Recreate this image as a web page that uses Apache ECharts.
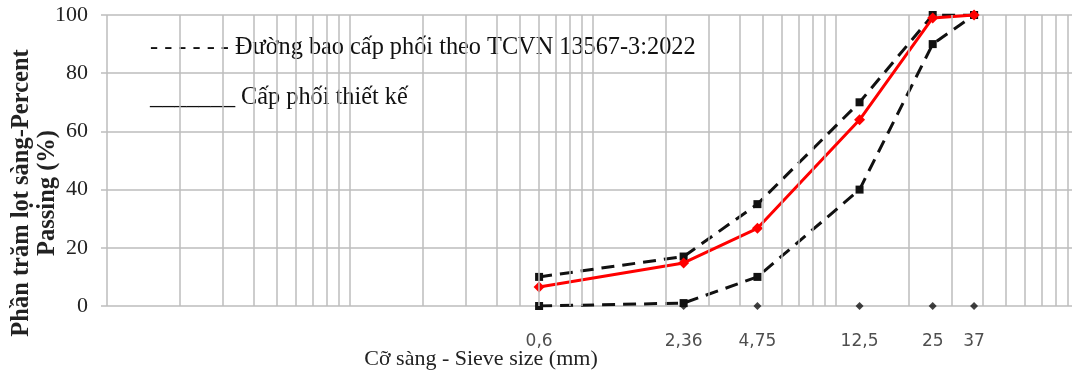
<!DOCTYPE html>
<html>
<head>
<meta charset="utf-8">
<script src="https://cdn.jsdelivr.net/npm/echarts@6/dist/echarts.min.js"></script>
<style>
  html, body { margin: 0; padding: 0; background: #fff; }
  #chart { width: 1072px; height: 378px; }
</style>
</head>
<body>
<div id="chart"></div>
<script>
// Sieve sizes (mm) and their printed labels
const sieveSizes = [0.6, 2.36, 4.75, 12.5, 25, 37];
const sieveLabels = ['0,6', '2,36', '4,75', '12,5', '25', '37'];

// Percent passing
const upperBound = [10, 17, 35, 70, 100, 100];
const lowerBound = [0, 1, 10, 40, 90, 100];
const designGrading = [6.5, 14.8, 26.7, 64, 99, 100];

// Axis ranges
const yTicks = [0, 20, 40, 60, 80, 100];
const xRange = [0.01, 100];

// Legend lines (typed as text)
const legendLines = [
  '- - - - - - Đường bao cấp phối theo TCVN 13567-3:2022',
  '_______ Cấp phối thiết kế'
];
const yTitle = 'Phần trăm lọt sàng-Percent\nPassing (%)';
const xTitle = 'Cỡ sàng - Sieve size (mm)';

const SERIF = '"Liberation Serif", "Times New Roman", serif';
const GRID_COLOR = '#bdbdbd';

// Minor log grid lines: 2..9 within each decade
const minorGrid = [];
for (let d = xRange[0]; d < xRange[1] * 0.999; d *= 10) {
  for (let k = 2; k <= 9; k++) minorGrid.push(+(k * d).toPrecision(6));
}

const pairs = (vals) => sieveSizes.map((s, i) => [s, vals[i]]);

const chart = echarts.init(document.getElementById('chart'), null, { renderer: 'canvas' });

chart.setOption({
  animation: false,
  backgroundColor: '#ffffff',
  grid: { left: 107, top: 15, right: -7, bottom: 72, containLabel: false, outerBoundsMode: 'none' },
  xAxis: {
    type: 'log',
    logBase: 10,
    min: xRange[0],
    max: xRange[1],
    axisLine: { show: false },
    axisTick: { show: false },
    axisLabel: { show: false },
    splitLine: { show: true, lineStyle: { color: GRID_COLOR, width: 1.5 } },
    name: xTitle,
    nameLocation: 'middle',
    nameGap: 42,
    nameTextStyle: {
      fontFamily: SERIF, fontSize: 22, color: '#222',
      padding: [0, 224, 0, 0]
    }
  },
  yAxis: {
    type: 'value',
    min: yTicks[0],
    max: yTicks[yTicks.length - 1],
    interval: 20,
    axisLine: { show: false },
    axisTick: { show: true, length: 6, lineStyle: { color: GRID_COLOR, width: 1.5 } },
    axisLabel: { fontFamily: SERIF, fontSize: 22, color: '#222', margin: 19 },
    splitLine: { show: true, lineStyle: { color: GRID_COLOR, width: 1.5 } }
  },
  graphic: [
    // y-axis title, rotated, two lines
    {
      type: 'text',
      x: 35,
      y: 193,
      rotation: Math.PI / 2,
      silent: true,
      style: {
        text: yTitle,
        font: 'bold 24.5px ' + SERIF,
        fill: '#222',
        align: 'center',
        verticalAlign: 'middle',
        lineHeight: 26
      }
    }
  ].concat(legendLines.map((t, i) => ({
    type: 'text',
    left: 150,
    top: 36 + i * 50,
    silent: true,
    style: { text: t, font: '24.3px ' + SERIF, fill: '#111' }
  }))),
  series: [
    {
      // sieve markers on the zero line, with size labels, plus minor grid
      name: 'sieves',
      type: 'scatter',
      z: 1,
      symbol: 'diamond',
      symbolSize: 8,
      itemStyle: { color: '#111' },
      data: sieveSizes.map((s) => [s, 0]),
      label: {
        show: true,
        position: 'bottom',
        distance: 23,
        fontFamily: '"DejaVu Sans", Verdana, sans-serif',
        fontSize: 17,
        color: '#222',
        formatter: (p) => sieveLabels[p.dataIndex]
      },
      markLine: {
        silent: true,
        symbol: 'none',
        label: { show: false },
        lineStyle: { color: GRID_COLOR, width: 1.5, type: 'solid' },
        data: minorGrid.map((v) => ({ xAxis: v }))
      }
    },
    {
      name: 'upper',
      type: 'line',
      z: 3,
      data: pairs(upperBound),
      symbol: 'rect',
      symbolSize: 8,
      lineStyle: { color: '#111', width: 3, type: [13, 8] },
      itemStyle: { color: '#111' }
    },
    {
      name: 'lower',
      type: 'line',
      z: 3,
      data: pairs(lowerBound),
      symbol: 'rect',
      symbolSize: 8,
      lineStyle: { color: '#111', width: 3, type: [13, 8] },
      itemStyle: { color: '#111' }
    },
    {
      name: 'design',
      type: 'line',
      z: 4,
      data: pairs(designGrading),
      symbol: 'diamond',
      symbolSize: 11,
      lineStyle: { color: '#ff0000', width: 3 },
      itemStyle: { color: '#ff0000' }
    }
  ]
});
</script>
</body>
</html>
